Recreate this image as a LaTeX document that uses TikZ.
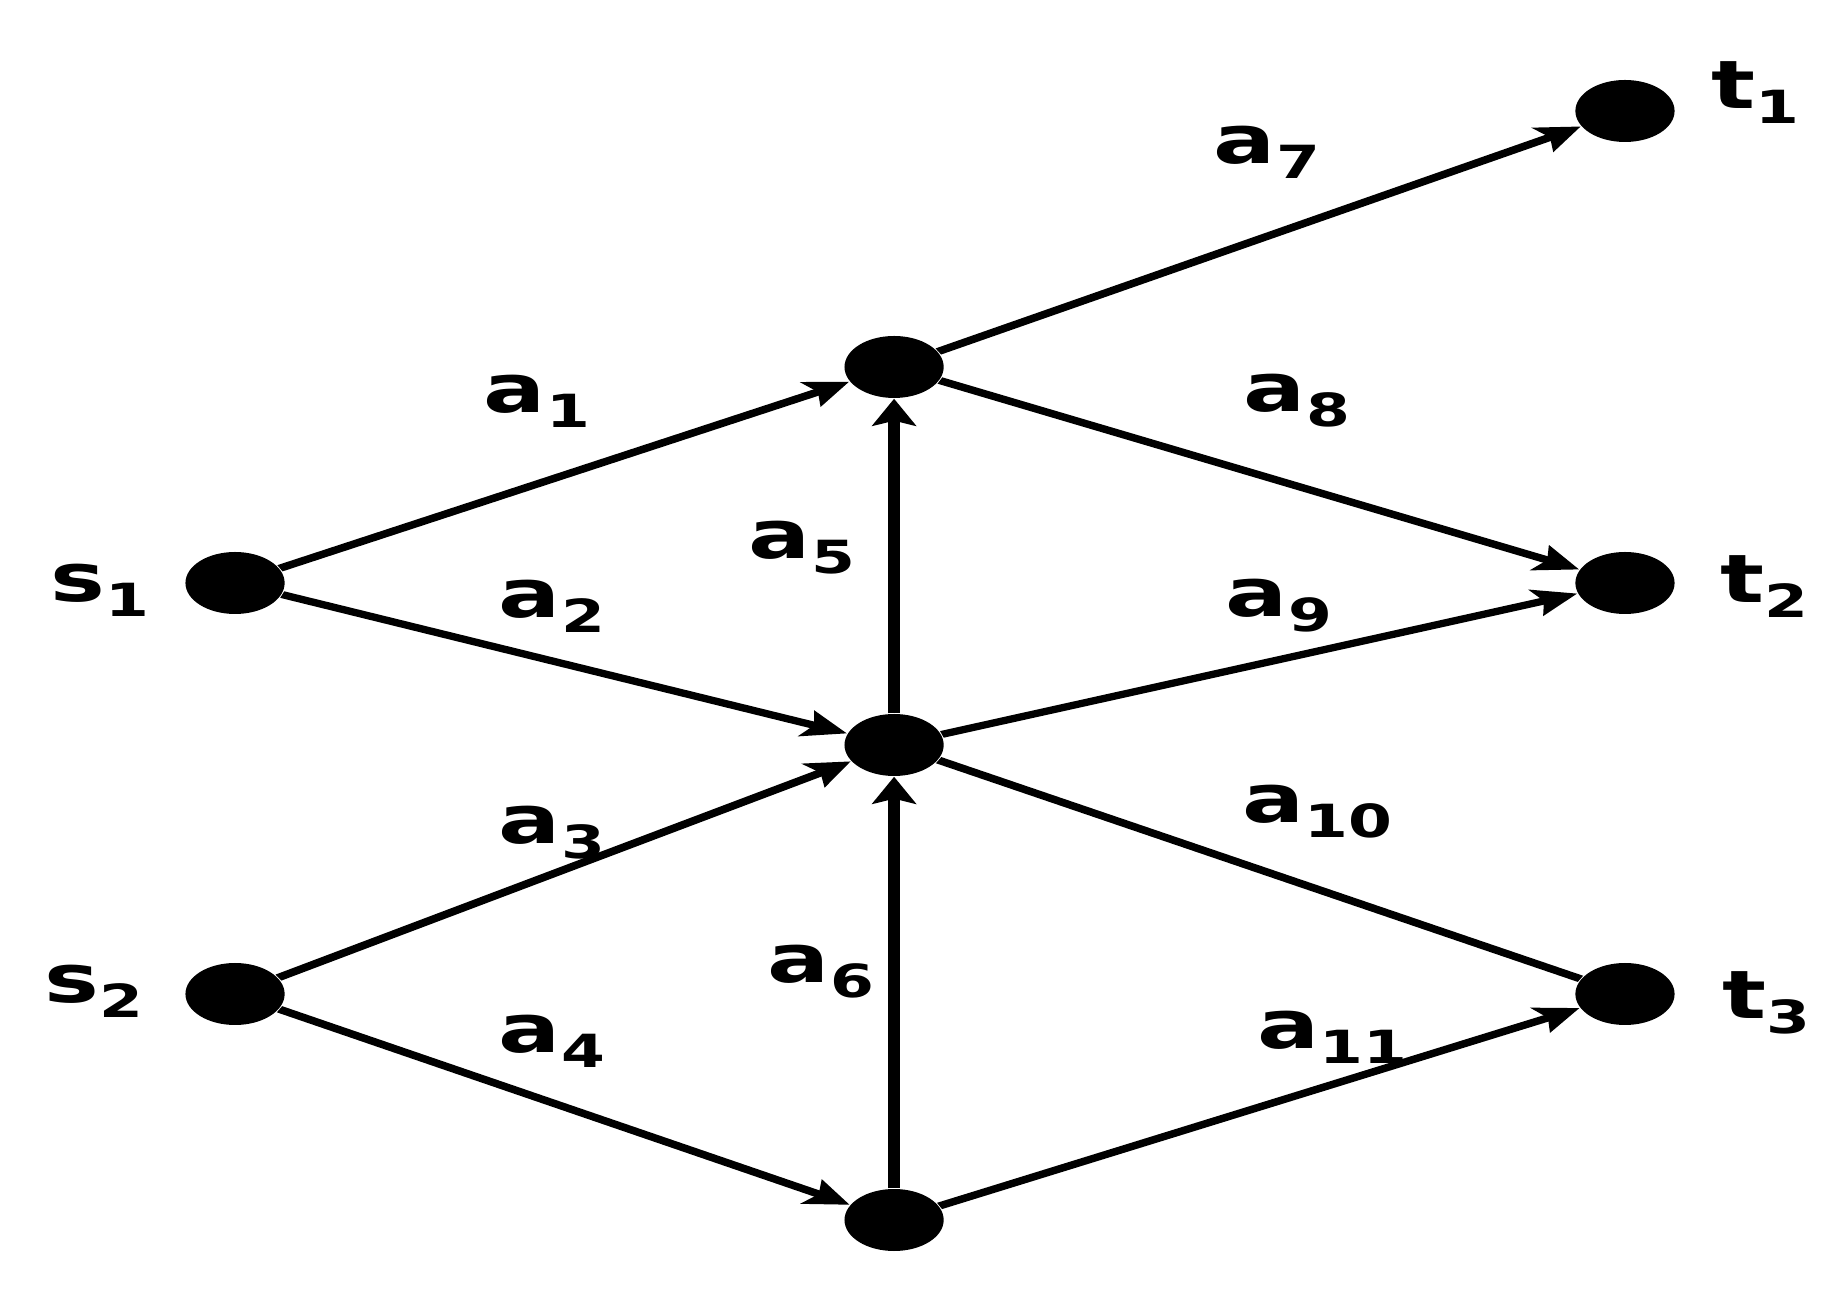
\documentclass[tikz,border=0pt]{standalone}
\usepackage{fontspec}
\setmainfont{DejaVu Sans}
\usetikzlibrary{shapes.geometric,arrows.meta,positioning}

\newcommand{\arclab}[2]{\scalebox{1.38}[1]{#1\raisebox{-0.15cm}{\fontsize{13}{15}\selectfont #2}}}

\begin{document}
\begin{tikzpicture}[
    vert/.style={circle, fill=black, minimum size=0.62cm, inner sep=0pt},
    link/.style={line width=2pt, -{Stealth[length=0.27cm,width=0.27cm,inset=0.05cm]}},
    plain/.style={line width=2pt},
    lbl/.style={font=\fontsize{19}{23}\selectfont\bfseries, inner sep=0pt}
  ]
        \useasboundingbox (0,0) rectangle (18.4,12.88);

    \begin{scope}[transform canvas={xscale=1.6}]
        % Vertices
        \node[vert] (s1) at (1.469,7.05) {};
        \node[vert] (s2) at (1.469,2.94) {};
        \node[vert] (m1) at (5.588,9.21) {};
        \node[vert] (m2) at (5.588,5.43) {};
        \node[vert] (m3) at (5.588,0.68) {};
        \node[vert] (t1) at (10.156,11.77) {};
        \node[vert] (t2) at (10.156,7.05) {};
        \node[vert] (t3) at (10.156,2.94) {};

        % Arcs
        \draw[link] (s1) -- (m1);
        \draw[link] (s1) -- (m2);
        \draw[link] (s2) -- (m2);
        \draw[link] (s2) -- (m3);
        \draw[link] (m2) -- (m1);
        \draw[link] (m3) -- (m2);
        \draw[link] (m1) -- (t1);
        \draw[link] (m1) -- (t2);
        \draw[link] (m2) -- (t2);
        \draw[plain] (m2) -- (t3);
        \draw[link] (m3) -- (t3);
    \end{scope}

        % Vertex labels
        \node[lbl] (ls1) at (1.00,6.98) {\arclab{s}{1}};
        \node[lbl] (ls2) at (0.94,2.97) {\arclab{s}{2}};
        \node[lbl] (lt1) at (17.55,11.95) {\arclab{t}{1}};
        \node[lbl] (lt2) at (17.64,7.01) {\arclab{t}{2}};
        \node[lbl] (lt3) at (17.66,2.85) {\arclab{t}{3}};

        % Arc labels
        \node[lbl] (a1) at (5.37,8.87) {\arclab{a}{1}};
        \node[lbl] (a2) at (5.52,6.82) {\arclab{a}{2}};
        \node[lbl] (a3) at (5.52,4.55) {\arclab{a}{3}};
        \node[lbl] (a4) at (5.52,2.47) {\arclab{a}{4}};
        \node[lbl] (a5) at (8.02,7.40) {\arclab{a}{5}};
        \node[lbl] (a6) at (8.21,3.16) {\arclab{a}{6}};
        \node[lbl] (a7) at (12.67,11.36) {\arclab{a}{7}};
        \node[lbl] (a8) at (12.97,8.87) {\arclab{a}{8}};
        \node[lbl] (a9) at (12.79,6.82) {\arclab{a}{9}};
        \node[lbl] (a10) at (13.17,4.76) {\arclab{a}{10}};
        \node[lbl] (a11) at (13.32,2.51) {\arclab{a}{11}};
\end{tikzpicture}
\end{document}
